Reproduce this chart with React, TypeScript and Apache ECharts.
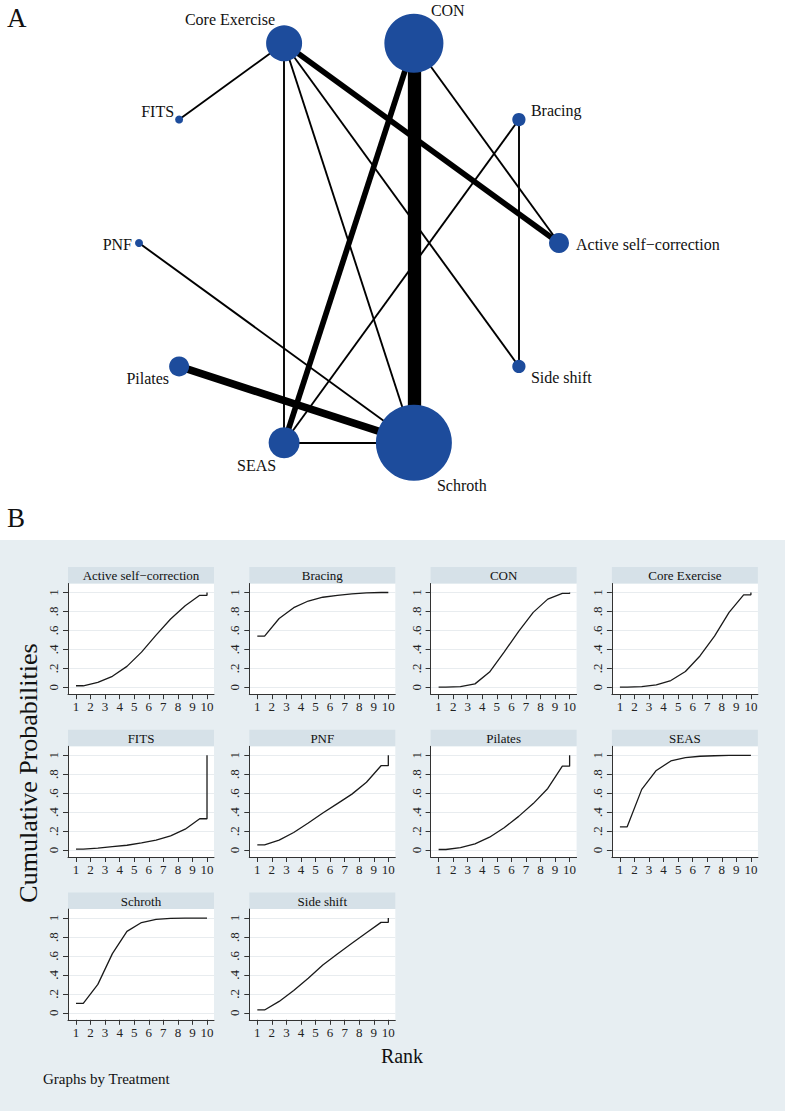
import React, { useEffect, useRef } from 'react';
import * as echarts from 'echarts';

// ---------- DATA ----------
const treatments = [
  'Active self−correction',
  'Bracing',
  'CON',
  'Core Exercise',
  'FITS',
  'PNF',
  'Pilates',
  'SEAS',
  'Schroth',
  'Side shift',
];

// relative sample sizes (node area)
const nodeSampleSize = [25, 11, 218, 81, 4, 4, 25, 60, 361, 11];

// direct comparisons: [a, b, number of studies]
const comparisons: [string, string, number][] = [
  ['CON', 'Schroth', 7],
  ['CON', 'SEAS', 3],
  ['CON', 'Active self−correction', 1],
  ['Core Exercise', 'Active self−correction', 3],
  ['Core Exercise', 'FITS', 1],
  ['Core Exercise', 'SEAS', 1],
  ['Core Exercise', 'Schroth', 1],
  ['Core Exercise', 'Side shift', 1],
  ['Bracing', 'SEAS', 1],
  ['Bracing', 'Side shift', 1],
  ['PNF', 'Schroth', 1],
  ['Pilates', 'Schroth', 4],
  ['SEAS', 'Schroth', 1],
];

// x positions of the cumulative ranking curve points
const rankPositions = [1, 1.5, 2.5, 3.5, 4.5, 5.5, 6.5, 7.5, 8.5, 9.5, 10, 10];
const rankTicks = [1, 2, 3, 4, 5, 6, 7, 8, 9, 10];
const probTicks = [0, 0.2, 0.4, 0.6, 0.8, 1];

const cumActive = [0.015, 0.015, 0.05, 0.115, 0.22, 0.37, 0.55, 0.72, 0.86, 0.97, 0.97, 1];
const cumBracing = [0.54, 0.54, 0.725, 0.84, 0.91, 0.95, 0.97, 0.985, 0.995, 1, 1, 1];
const cumCON = [0, 0, 0.005, 0.035, 0.16, 0.37, 0.59, 0.79, 0.93, 0.99, 0.99, 1];
const cumCore = [0, 0, 0.005, 0.025, 0.07, 0.165, 0.33, 0.54, 0.79, 0.975, 0.975, 1];
const cumFITS = [0.01, 0.01, 0.02, 0.035, 0.05, 0.075, 0.105, 0.15, 0.22, 0.33, 0.33, 1];
const cumPNF = [0.055, 0.055, 0.105, 0.185, 0.285, 0.39, 0.49, 0.59, 0.715, 0.89, 0.89, 1];
const cumPilates = [0.005, 0.005, 0.025, 0.065, 0.135, 0.235, 0.355, 0.49, 0.65, 0.885, 0.885, 1];
const cumSEAS = [0.245, 0.245, 0.64, 0.84, 0.94, 0.975, 0.99, 0.995, 1, 1, 1, 1];
const cumSchroth = [0.1, 0.1, 0.3, 0.625, 0.86, 0.953, 0.986, 0.996, 1, 1, 1, 1];
const cumSideShift = [0.03, 0.03, 0.12, 0.235, 0.365, 0.505, 0.62, 0.735, 0.845, 0.955, 0.955, 1];

const cumulative = [
  cumActive, cumBracing, cumCON, cumCore, cumFITS,
  cumPNF, cumPilates, cumSEAS, cumSchroth, cumSideShift,
];

// ---------- STYLE / LAYOUT ----------
const FONT = "'Liberation Serif', 'Times New Roman', serif";
const NODE_COLOR = '#1d4c9c';

// label placement per node: [align, dx, dy]
const labelPlacement: Record<string, [string, number, number]> = {
  'Active self−correction': ['left', 17, 1],
  Bracing: ['left', 12, -9],
  CON: ['left', 17, -33],
  'Core Exercise': ['right', -9, -24],
  FITS: ['right', -5, -8],
  PNF: ['right', -7, 1],
  Pilates: ['right', -10, 12],
  SEAS: ['right', -8, 23],
  Schroth: ['left', 23, 43],
  'Side shift': ['left', 12, 11],
};

const PANEL_LEFT0 = 68;
const PANEL_COL_STEP = 181.3;
const PANEL_W = 146;
const STRIP_TOP0 = 567;
const ROW_STEP = 162.8;
const STRIP_H = 16.5;
const PLOT_H = 110.7;

export default function App() {
  const ref = useRef<HTMLDivElement>(null);

  useEffect(() => {
    if (!ref.current) return;
    const chart = echarts.init(ref.current, undefined, { renderer: 'svg' });

    const grids: any[] = [
      { left: 139, top: 33, width: 420, height: 420, show: false },
    ];
    const xAxes: any[] = [
      { gridIndex: 0, type: 'value', min: -1, max: 1, show: false },
    ];
    const yAxes: any[] = [
      { gridIndex: 0, type: 'value', min: -1, max: 1, show: false },
    ];
    const series: any[] = [];
    const graphics: any[] = [];

    // network graph
    series.push({
      type: 'graph',
      coordinateSystem: 'cartesian2d',
      xAxisIndex: 0,
      yAxisIndex: 0,
      layout: 'none',
      symbol: 'circle',
      silent: true,
      itemStyle: { color: NODE_COLOR },
      lineStyle: { color: '#000', opacity: 1, curveness: 0 },
      data: treatments.map((name, i) => {
        const ang = (i * 2 * Math.PI) / treatments.length;
        const [align, dx, dy] = labelPlacement[name];
        return {
          name,
          value: [Math.cos(ang), Math.sin(ang)],
          symbolSize: 4 * Math.sqrt(nodeSampleSize[i]),
          label: {
            show: true,
            position: 'inside',
            align,
            verticalAlign: 'middle',
            offset: [dx, dy],
            fontFamily: FONT,
            fontSize: 16,
            color: '#111',
          },
        };
      }),
      links: comparisons.map(([s, t, n]) => ({
        source: s,
        target: t,
        lineStyle: { width: 1.9 * n, color: '#000', opacity: 1 },
      })),
    });

    treatments.forEach((name, i) => {
      const row = Math.floor(i / 4);
      const col = i % 4;
      const left = PANEL_LEFT0 + col * PANEL_COL_STEP;
      const stripTop = STRIP_TOP0 + row * ROW_STEP;
      const top = stripTop + STRIP_H;
      const gi = i + 1;
      grids.push({
        left,
        top,
        width: PANEL_W,
        height: PLOT_H,
        show: true,
        backgroundColor: '#ffffff',
        borderWidth: 0,
      });
      xAxes.push({
        gridIndex: gi,
        type: 'value',
        min: 0.45,
        max: 10.48,
        axisLine: { show: true, onZero: false, lineStyle: { color: '#333', width: 1 } },
        axisTick: { show: true, customValues: rankTicks, length: 5, lineStyle: { color: '#333', width: 1 } },
        axisLabel: {
          customValues: rankTicks,
          fontFamily: FONT,
          fontSize: 13,
          color: '#222',
          margin: 6,
        },
        splitLine: { show: false },
      });
      yAxes.push({
        gridIndex: gi,
        type: 'value',
        min: -0.074,
        max: 1.095,
        axisLine: { show: true, onZero: false, lineStyle: { color: '#333', width: 1 } },
        axisTick: { show: true, customValues: probTicks, length: 5, lineStyle: { color: '#333', width: 1 } },
        axisLabel: {
          customValues: probTicks,
          rotate: 90,
          fontFamily: FONT,
          fontSize: 13,
          color: '#222',
          margin: 8,
          formatter: (v: number) => (v === 0 ? '0' : v === 1 ? '1' : String(v).replace(/^0/, '')),
        },
        splitLine: { show: true, lineStyle: { color: '#e8ecef', width: 1 } },
      });
      series.push({
        type: 'line',
        xAxisIndex: gi,
        yAxisIndex: gi,
        showSymbol: false,
        silent: true,
        lineStyle: { color: '#1a1a1a', width: 1.3 },
        data: rankPositions.map((x, k) => [x, cumulative[i][k]]),
      });
      graphics.push({
        type: 'rect',
        shape: { x: left, y: stripTop, width: PANEL_W, height: STRIP_H },
        style: { fill: '#d6e1e8' },
        silent: true,
      });
      graphics.push({
        type: 'text',
        x: left + PANEL_W / 2,
        y: stripTop + STRIP_H / 2 + 0.5,
        style: {
          text: name,
          fontFamily: FONT,
          fontSize: 13,
          fill: '#111',
          align: 'center',
          verticalAlign: 'middle',
        },
        silent: true,
      });
    });

    graphics.push(
      {
        type: 'text', x: 7, y: 4,
        style: { text: 'A', fontFamily: FONT, fontSize: 27, fill: '#111', align: 'left', verticalAlign: 'top' },
      },
      {
        type: 'text', x: 7, y: 504,
        style: { text: 'B', fontFamily: FONT, fontSize: 27, fill: '#111', align: 'left', verticalAlign: 'top' },
      },
      {
        type: 'text', x: 28, y: 773, rotation: Math.PI / 2,
        style: { text: 'Cumulative Probabilities', fontFamily: FONT, fontSize: 26, fill: '#111', align: 'center', verticalAlign: 'middle' },
      },
      {
        type: 'text', x: 402, y: 1056,
        style: { text: 'Rank', fontFamily: FONT, fontSize: 20, fill: '#111', align: 'center', verticalAlign: 'middle' },
      },
      {
        type: 'text', x: 43, y: 1079,
        style: { text: 'Graphs by Treatment', fontFamily: FONT, fontSize: 15, fill: '#111', align: 'left', verticalAlign: 'middle' },
      }
    );

    chart.setOption({
      animation: false,
      backgroundColor: 'transparent',
      grid: grids,
      xAxis: xAxes,
      yAxis: yAxes,
      series,
      graphic: graphics,
    });

    return () => chart.dispose();
  }, []);

  return (
    <div
      ref={ref}
      style={{
        position: 'absolute',
        left: 0,
        top: 0,
        width: 785,
        height: 1111,
        background: 'linear-gradient(to bottom, #ffffff 540px, #e7eef2 540px)',
      }}
    />
  );
}
